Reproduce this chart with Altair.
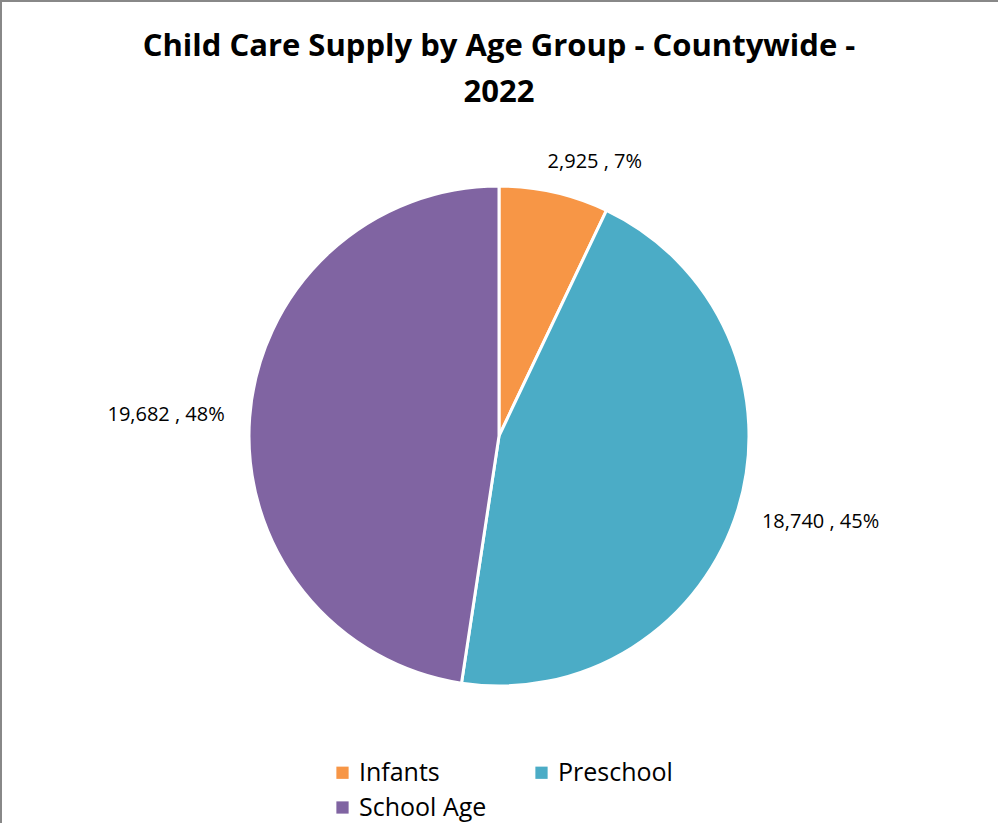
import math
import altair as alt
import pandas as pd

categories = ["Infants", "Preschool", "School Age"]
values = [2925, 18740, 19682]
colors = ["#F79646", "#4BACC6", "#8064A2"]
title_lines = ["Child Care Supply by Age Group - Countywide -", "2022"]

df = pd.DataFrame({"category": categories, "value": values, "order": list(range(len(categories)))})

FONT = "Open Sans"
CX, CY, R = 499, 436, 250
LR = 275
BORDER = "#888888"

theta_scale = alt.Scale(domain=[0, 1], range=[0, 2 * math.pi])

base = alt.Chart(df)

arcs = base.mark_arc(outerRadius=R, stroke="white", strokeWidth=3).encode(
    theta=alt.Theta("value:Q", stack="normalize", scale=theta_scale),
    color=alt.Color(
        "category:N",
        scale=alt.Scale(domain=categories, range=colors),
        legend=alt.Legend(
            title=None,
            orient="none",
            legendX=330,
            legendY=760,
            columns=2,
            direction="horizontal",
            symbolType="square",
            symbolSize=150,
            symbolStrokeWidth=0,
            labelFont=FONT,
            labelFontSize=25,
            labelColor="#000000",
            labelOffset=4,
            columnPadding=42,
            rowPadding=9,
            padding=0,
        ),
    ),
    order=alt.Order("order:Q"),
    x=alt.value(CX),
    y=alt.value(CY),
)

lab = (
    base.transform_joinaggregate(total="sum(value)")
    .transform_window(cum="sum(value)", sort=[alt.SortField("order")], frame=[None, 0])
    .transform_calculate(
        mid="(datum.cum - datum.value / 2) / datum.total",
        label="format(datum.value, ',') + ' , ' + format(datum.value / datum.total, '.0%')",
    )
)

def label_layer(cat, align, dx=0, dy=0):
    return lab.transform_filter(alt.datum.category == cat).mark_text(
        radius=LR, align=align, baseline="middle", dx=dx, dy=dy,
        font=FONT, fontSize=20, color="#000000",
    ).encode(
        theta=alt.Theta("mid:Q", stack=False, scale=theta_scale),
        text="label:N",
        x=alt.value(CX),
        y=alt.value(CY),
    )

frame_df = pd.DataFrame({"k": [0]})
left_border = alt.Chart(frame_df).mark_rule(color=BORDER, strokeWidth=2).encode(
    x=alt.value(1), y=alt.value(0), y2=alt.value(823)
)
top_border = alt.Chart(frame_df).mark_rule(color=BORDER, strokeWidth=2).encode(
    x=alt.value(0), x2=alt.value(998), y=alt.value(1)
)

chart = alt.layer(
    arcs,
    label_layer("Infants", "left", dx=-12, dy=-6),
    label_layer("Preschool", "left", dy=5),
    label_layer("School Age", "right"),
    left_border,
    top_border,
).properties(
    width=998,
    height=823,
    autosize=alt.AutoSizeParams(type="none"),
    padding=0,
    background="white",
    title=alt.TitleParams(
        text=title_lines,
        font=FONT,
        fontSize=31,
        fontWeight="bold",
        color="#000000",
        anchor="middle",
        frame="group",
        offset=-110,
        lineHeight=46,
    ),
).configure_view(stroke=None)

chart.save("out.html", embed_options={"renderer": "svg", "actions": False})
